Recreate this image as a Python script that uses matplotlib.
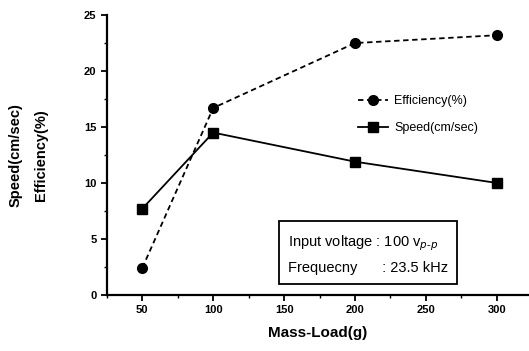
import matplotlib.pyplot as plt
from matplotlib.ticker import MultipleLocator

plt.rcParams['font.family'] = ['Liberation Sans', 'DejaVu Sans']

mass_load = [50, 100, 200, 300]
efficiency = [2.4, 16.7, 22.5, 23.2]
speed = [7.7, 14.5, 11.9, 10.0]

fig = plt.figure(figsize=(5.29, 3.51), dpi=100)
ax = fig.add_axes([0.202, 0.160, 0.796, 0.797])

ax.plot(mass_load, efficiency, linestyle=(0, (3, 2)), color='black', lw=1.3,
        marker='o', markersize=7, label='Efficiency(%)')
ax.plot(mass_load, speed, linestyle='-', color='black', lw=1.3,
        marker='s', markersize=7, label='Speed(cm/sec)')

ax.set_xlim(25, 322)
ax.set_ylim(0, 25)
ax.xaxis.set_major_locator(MultipleLocator(50))
ax.xaxis.set_minor_locator(MultipleLocator(25))
ax.yaxis.set_major_locator(MultipleLocator(5))
ax.yaxis.set_minor_locator(MultipleLocator(2.5))
ax.tick_params(which='major', length=4, width=1.3, labelsize=8, direction='out')
ax.tick_params(which='minor', length=2.5, width=1.0, direction='out')
for lbl in ax.get_xticklabels() + ax.get_yticklabels():
    lbl.set_fontweight('bold')
ax.spines['top'].set_visible(False)
ax.spines['right'].set_visible(False)
ax.spines['left'].set_linewidth(1.6)
ax.spines['bottom'].set_linewidth(1.6)

ax.set_xlabel('Mass-Load(g)', fontsize=11, fontweight='bold', labelpad=8)
ax.set_ylabel('Speed(cm/sec)\nEfficiency(%)', fontsize=10.5, fontweight='bold',
              labelpad=26, linespacing=2.0)

ax.legend(loc='upper left', bbox_to_anchor=(0.57, 0.755), frameon=False,
          fontsize=9, handlelength=2.4, labelspacing=1.2, handletextpad=0.5)

ax.text(0.43, 0.08,
        'Input voltage : 100 v$_{p\u2010p}$\nFrequecny      : 23.5 kHz',
        transform=ax.transAxes, fontsize=10.5, linespacing=1.8,
        bbox=dict(boxstyle='square,pad=0.6', facecolor='white', edgecolor='black', lw=1.3))

fig.savefig('out.png', dpi=100)
